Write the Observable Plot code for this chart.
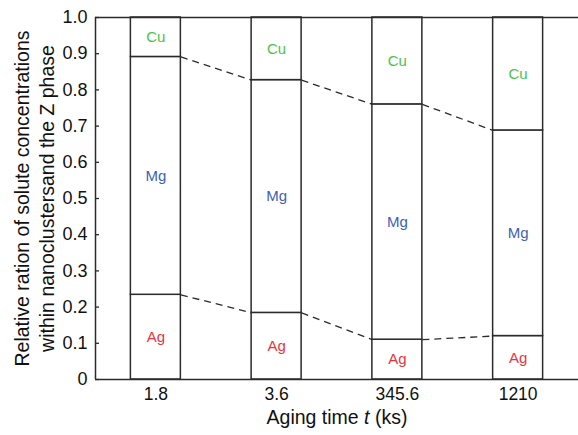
<!DOCTYPE html>
<html>
<head>
<meta charset="utf-8">
<script src="https://cdn.jsdelivr.net/npm/d3@7"></script>
<script src="https://cdn.jsdelivr.net/npm/@observablehq/plot@0.6"></script>
<style>
  html, body { margin: 0; padding: 0; background: #fff; }
  #chart svg { display: block; }
</style>
</head>
<body>
<div id="chart"></div>
<script>
// Aging times (categories)
const times = ["1.8", "3.6", "345.6", "1210"];
// Upper boundary of the Ag fraction
const agTop = [0.234, 0.184, 0.110, 0.120];
// Upper boundary of the Mg fraction (Cu fills the rest up to 1)
const mgTop = [0.891, 0.827, 0.760, 0.688];
const yTicks = [0, 0.1, 0.2, 0.3, 0.4, 0.5, 0.6, 0.7, 0.8, 0.9, 1.0];
const elements = ["Ag", "Mg", "Cu"];
const elementColors = ["#e8343c", "#3d5fb3", "#4cc24c"];

const halfBar = 0.207; // half bar width in category-index units
const ink = "#2b2b2b";
const font = "'Liberation Sans', Arial, sans-serif";

// Segments
const segments = [];
times.forEach((t, i) => {
  const bounds = [0, agTop[i], mgTop[i], 1];
  elements.forEach((el, j) => {
    segments.push({i, el, y1: bounds[j], y2: bounds[j + 1], mid: (bounds[j] + bounds[j + 1]) / 2});
  });
});

// Dashed connectors between bar edges
const links = [];
for (const arr of [agTop, mgTop]) {
  for (let i = 0; i < times.length - 1; i++) {
    links.push({x1: i + halfBar, x2: i + 1 - halfBar, y1: arr[i], y2: arr[i + 1]});
  }
}

const chart = Plot.plot({
  width: 578,
  height: 435,
  marginLeft: 95,
  marginRight: 0,
  marginTop: 17,
  marginBottom: 56,
  style: {fontFamily: font, background: "#fff"},
  x: {domain: [-0.5, times.length - 0.5], axis: null},
  y: {domain: [0, 1], axis: null},
  color: {domain: elements, range: elementColors},
  marks: [
    Plot.rectY(segments, {
      x1: d => d.i - halfBar, x2: d => d.i + halfBar, y1: "y1", y2: "y2",
      fill: "white", stroke: ink, strokeWidth: 1.5
    }),
    Plot.link(links, {x1: "x1", x2: "x2", y1: "y1", y2: "y2", stroke: ink, strokeWidth: 1.3, strokeDasharray: "7,5"}),
    Plot.text(segments, {x: "i", y: "mid", text: "el", fill: d => d.el, fontSize: 15}),
    Plot.ruleY([0, 1], {stroke: ink, strokeWidth: 1.5}),
    Plot.ruleX([-0.5], {stroke: ink, strokeWidth: 1.5}),
    // inward y tick marks
    Plot.tickY(yTicks, {y: d => d, stroke: ink, strokeWidth: 1.3, insetRight: 479}),
    Plot.axisY(yTicks, {
      tickSize: 0, tickPadding: 8, fontSize: 18, fill: "#111",
      tickFormat: d => d === 0 ? "0" : d.toFixed(1)
    }),
    Plot.axisX(d3.range(times.length), {
      tickSize: 0, tickPadding: 8, fontSize: 17.5, fill: "#111",
      tickFormat: i => times[i]
    }),
    Plot.text(["Relative ration of solute concentrations\nwithin nanoclustersand the Z phase"], {
      frameAnchor: "left", textAnchor: "middle", dx: -62, dy: 0, rotate: -90,
      fontSize: 19.5, lineHeight: 1.28, fill: "#111"
    }),
    Plot.text(["Aging time t (ks)"], {
      frameAnchor: "bottom", dy: 44, fontSize: 19.5, fill: "#111", className: "xtitle"
    })
  ]
});

document.getElementById("chart").appendChild(chart);

// italic t in the x-axis title
const xt = chart.querySelector(".xtitle text");
if (xt) {
  xt.textContent = "";
  const parts = [["Aging time ", null], ["t", "italic"], [" (ks)", null]];
  for (const [s, style] of parts) {
    const ts = document.createElementNS("http://www.w3.org/2000/svg", "tspan");
    ts.textContent = s;
    if (style) ts.setAttribute("font-style", style);
    xt.appendChild(ts);
  }
}
</script>
</body>
</html>
